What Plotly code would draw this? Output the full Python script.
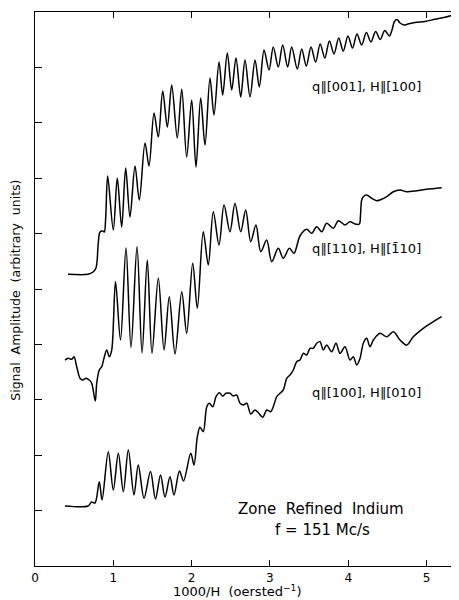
import plotly.graph_objects as go

# 1000/H (oersted^-1) and signal amplitude (arbitrary units)
top_x = [0.421, 0.677, 0.741, 0.779, 0.808, 0.830, 0.865, 0.885, 0.903, 0.928, 1.000, 1.051, 1.107, 1.158,
         1.213, 1.277, 1.332, 1.405, 1.456, 1.520, 1.575, 1.631, 1.690, 1.746, 1.817, 1.874, 1.937, 2.001,
         2.056, 2.116, 2.171, 2.235, 2.286, 2.350, 2.397, 2.456, 2.512, 2.567, 2.627, 2.682, 2.746, 2.810,
         2.865, 2.925, 2.989, 3.043, 3.107, 3.163, 3.227, 3.278, 3.350, 3.406, 3.465, 3.525, 3.584, 3.642,
         3.701, 3.760, 3.819, 3.879, 3.937, 3.997, 4.055, 4.112, 4.172, 4.232, 4.291, 4.350, 4.409, 4.467,
         4.526, 4.559, 4.591, 4.623, 4.662, 4.713, 4.764, 4.853, 4.981, 5.109, 5.236, 5.338]
top_y = [5.265, 5.265, 5.307, 5.379, 5.830, 6.029, 6.047, 6.029, 6.300, 7.040, 6.065, 7.004, 6.119, 7.184,
         6.300, 7.220, 6.606, 7.635, 7.220, 8.177, 7.744, 8.574, 7.924, 8.682, 7.726, 8.610, 7.383, 8.412,
         7.202, 8.448, 7.599, 8.809, 8.141, 9.097, 8.502, 9.260, 8.592, 9.170, 8.466, 9.134, 8.466, 9.134,
         8.646, 9.314, 8.953, 9.368, 9.007, 9.404, 9.007, 9.368, 8.971, 9.332, 9.025, 9.368, 9.097, 9.422,
         9.170, 9.477, 9.242, 9.531, 9.296, 9.567, 9.350, 9.603, 9.404, 9.630, 9.458, 9.648, 9.504, 9.666,
         9.567, 9.675, 9.829, 9.865, 9.801, 9.765, 9.783, 9.810, 9.829, 9.868, 9.904, 9.946]

mid_x = [0.383, 0.425, 0.469, 0.498, 0.533, 0.575, 0.609, 0.651, 0.693, 0.724, 0.770, 0.788, 0.821, 0.852,
         0.881, 0.916, 0.949, 0.980, 1.028, 1.092, 1.162, 1.226, 1.303, 1.367, 1.434, 1.494, 1.575, 1.648,
         1.715, 1.788, 1.874, 1.937, 2.014, 2.073, 2.149, 2.213, 2.277, 2.350, 2.414, 2.490, 2.554, 2.627,
         2.691, 2.755, 2.822, 2.883, 2.959, 3.023, 3.107, 3.171, 3.248, 3.308, 3.384, 3.470, 3.534, 3.598,
         3.662, 3.725, 3.810, 3.874, 3.959, 4.023, 4.087, 4.142, 4.157, 4.172, 4.193, 4.236, 4.300, 4.364,
         4.428, 4.492, 4.576, 4.662, 4.747, 4.875, 5.003, 5.130, 5.194]
mid_y = [3.718, 3.749, 3.731, 3.778, 3.597, 3.388, 3.357, 3.388, 3.357, 3.298, 2.978, 3.298, 3.538, 3.597,
         3.749, 3.899, 3.778, 3.899, 5.135, 4.079, 5.740, 3.944, 5.767, 3.845, 5.523, 3.839, 5.199, 3.899,
         4.861, 3.827, 4.951, 4.200, 5.464, 4.652, 6.034, 5.433, 6.395, 5.794, 6.516, 6.034, 6.547, 6.034,
         6.426, 5.854, 6.155, 5.673, 5.884, 5.493, 5.735, 5.554, 5.735, 5.644, 5.957, 6.078, 6.005, 6.125,
         6.034, 6.186, 6.096, 6.233, 6.155, 6.215, 6.173, 6.173, 6.336, 6.606, 6.666, 6.697, 6.637, 6.594,
         6.619, 6.666, 6.756, 6.787, 6.756, 6.774, 6.800, 6.818, 6.829]

bot_x = [0.383, 0.677, 0.724, 0.766, 0.821, 0.856, 0.936, 1.000, 1.064, 1.128, 1.192, 1.264, 1.319, 1.392,
         1.475, 1.539, 1.603, 1.660, 1.724, 1.775, 1.845, 1.897, 1.989, 2.031, 2.073, 2.107, 2.149, 2.193,
         2.226, 2.270, 2.312, 2.354, 2.397, 2.439, 2.490, 2.533, 2.576, 2.618, 2.660, 2.704, 2.755, 2.810,
         2.852, 2.908, 2.959, 3.010, 3.043, 3.087, 3.129, 3.171, 3.215, 3.257, 3.299, 3.342, 3.384, 3.427,
         3.470, 3.512, 3.554, 3.598, 3.640, 3.682, 3.725, 3.789, 3.844, 3.895, 3.959, 4.023, 4.065, 4.109,
         4.151, 4.193, 4.236, 4.278, 4.321, 4.406, 4.492, 4.576, 4.662, 4.747, 4.831, 4.959, 5.087, 5.194]
bot_y = [1.083, 1.083, 1.155, 1.137, 1.522, 1.191, 2.063, 1.372, 2.034, 1.341, 2.094, 1.282, 1.823, 1.222,
         1.706, 1.209, 1.643, 1.245, 1.612, 1.282, 1.715, 1.534, 2.034, 1.823, 2.329, 2.504, 2.424, 2.870,
         2.937, 2.875, 3.056, 3.128, 3.069, 3.117, 3.117, 3.069, 3.087, 2.937, 2.906, 2.937, 2.744, 2.816,
         2.767, 2.684, 2.816, 2.785, 2.875, 3.056, 3.117, 3.177, 3.388, 3.448, 3.538, 3.688, 3.718, 3.839,
         3.809, 3.930, 3.930, 4.020, 4.049, 3.899, 3.989, 3.868, 4.020, 3.839, 3.958, 3.718, 3.778, 3.628,
         3.749, 4.020, 4.110, 3.958, 4.079, 4.200, 4.139, 4.229, 4.079, 3.989, 4.139, 4.291, 4.410, 4.500]

x_tick_vals = [0, 1, 2, 3, 4, 5]
x_tick_text = ["0", "1", "2", "3", "4", "5"]
y_tick_vals = [1, 2, 3, 4, 5, 6, 7, 8, 9]

curve_labels = ["q∥[001], H∥[100]", "q∥[110], H∥[1\u030410]", "q∥[100], H∥[010]"]
sample_text = ["Zone  Refined  Indium", "f = 151 Mc/s"]
x_title = "1000/H  (oersted<sup>−1</sup>)"
y_title = "Signal  Amplitude  (arbitrary  units)"

FONT = "DejaVu Sans"

fig = go.Figure()
for xs, ys in [(top_x, top_y), (mid_x, mid_y), (bot_x, bot_y)]:
    fig.add_trace(go.Scatter(x=xs, y=ys, mode="lines",
                             line=dict(color="black", width=1.5, shape="spline", smoothing=0.9),
                             showlegend=False, hoverinfo="skip"))

# page body has an 8px margin, so the figure is sized/placed to land on the reference pixels
fig.update_layout(
    width=451, height=592,
    margin=dict(l=27, r=0, t=4, b=34),
    paper_bgcolor="white", plot_bgcolor="white",
    font=dict(family=FONT, color="black", size=12),
    xaxis=dict(range=[0, 5.415], tickvals=x_tick_vals, ticktext=x_tick_text,
               ticks="inside", ticklen=6, tickcolor="black", tickwidth=1,
               showline=True, linecolor="black", linewidth=1.2, mirror="ticks",
               showgrid=False, zeroline=False, tickfont=dict(size=12, family=FONT)),
    yaxis=dict(range=[0, 10], tickvals=y_tick_vals, showticklabels=False,
               ticks="inside", ticklen=7, tickcolor="black", tickwidth=1,
               showline=True, linecolor="black", linewidth=1.2, mirror="ticks",
               showgrid=False, zeroline=False),
)

ann = [
    dict(text=curve_labels[0], x=0.649, y=0.866, xanchor="left", yanchor="middle", font=dict(size=13)),
    dict(text=curve_labels[1], x=0.649, y=0.574, xanchor="left", yanchor="middle", font=dict(size=13)),
    dict(text=curve_labels[2], x=0.649, y=0.314, xanchor="left", yanchor="middle", font=dict(size=13)),
    dict(text=sample_text[0], x=0.675, y=0.103, xanchor="center", yanchor="middle", font=dict(size=15)),
    dict(text=sample_text[1], x=0.679, y=0.065, xanchor="center", yanchor="middle", font=dict(size=15)),
    dict(text=x_title, x=0.476, y=-0.045, xanchor="center", yanchor="middle", font=dict(size=13)),
    dict(text=y_title, x=-0.048, y=0.498, xanchor="center", yanchor="middle", textangle=-90, font=dict(size=12.5)),
]
for a in ann:
    fig.add_annotation(xref="paper", yref="paper", showarrow=False, **a)

fig.write_html("out.html")
